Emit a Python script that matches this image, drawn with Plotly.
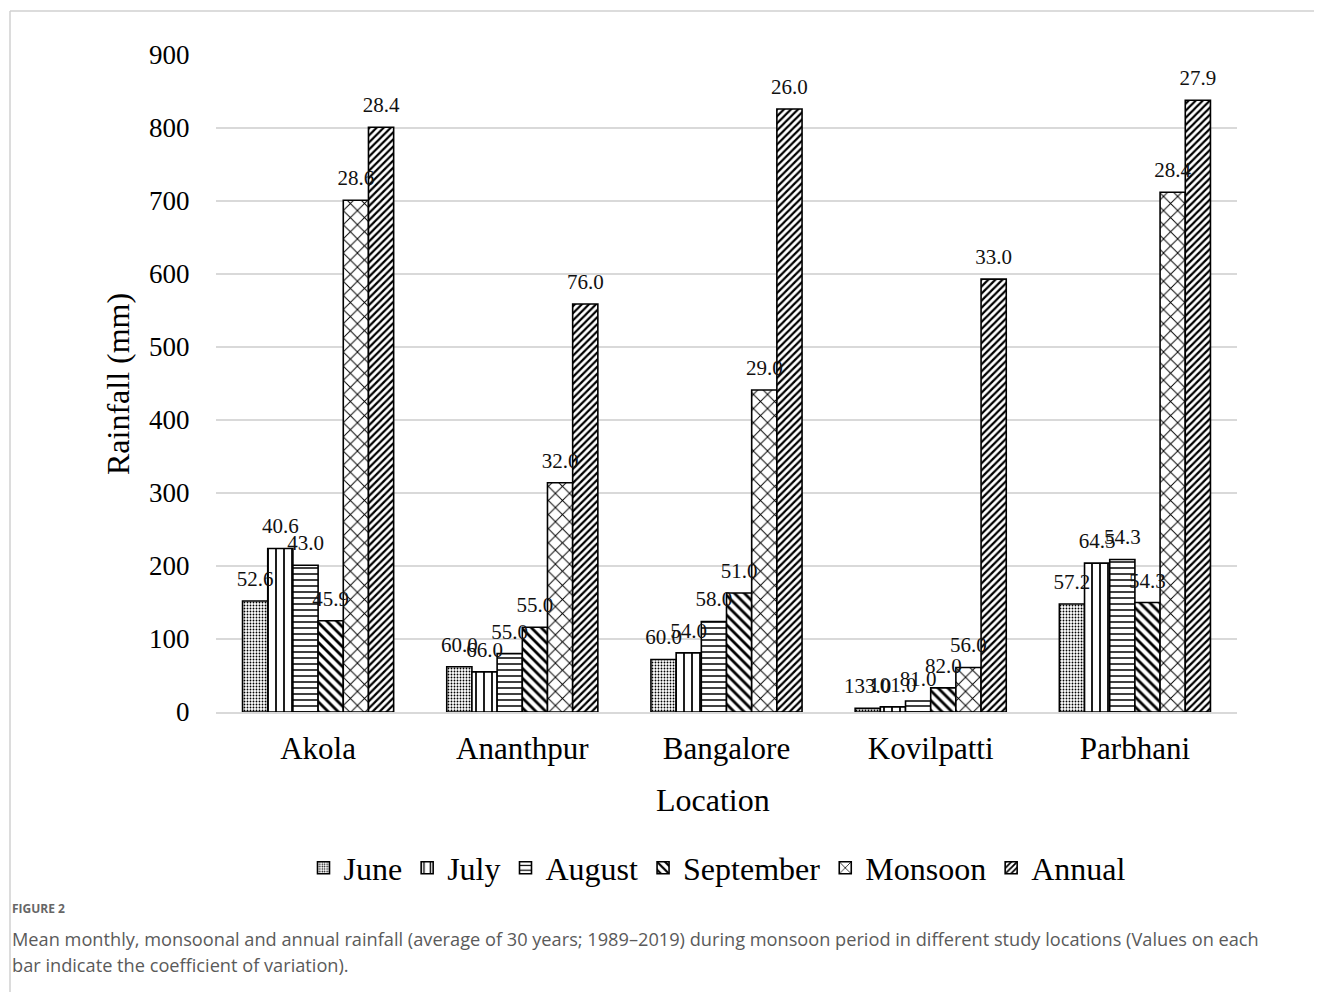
import plotly.graph_objects as go

locations = ["Akola", "Ananthpur", "Bangalore", "Kovilpatti", "Parbhani"]
series_names = ["June", "July", "August", "September", "Monsoon", "Annual"]

june = [152, 62, 72, 5, 148]
july = [224, 55, 81, 7, 204]
august = [201, 80, 124, 15, 209]
september = [125, 116, 163, 33, 150]
monsoon = [701, 314, 441, 61, 712]
annual = [801, 559, 826, 593, 838]

cv_june = ["52.6", "60.0", "60.0", "133.0", "57.2"]
cv_july = ["40.6", "66.0", "54.0", "101.0", "64.5"]
cv_august = ["43.0", "55.0", "58.0", "81.0", "54.3"]
cv_september = ["45.9", "55.0", "51.0", "82.0", "54.3"]
cv_monsoon = ["28.6", "32.0", "29.0", "56.0", "28.4"]
cv_annual = ["28.4", "76.0", "26.0", "33.0", "27.9"]

y_ticks = [0, 100, 200, 300, 400, 500, 600, 700, 800, 900]

values = [june, july, august, september, monsoon, annual]
labels = [cv_june, cv_july, cv_august, cv_september, cv_monsoon, cv_annual]
patterns = [
    dict(shape=".", size=3, solidity=0.3),
    dict(shape="|", size=8, solidity=0.22),
    dict(shape="-", size=6, solidity=0.25),
    dict(shape="\\", size=7, solidity=0.4),
    dict(shape="x", size=10, solidity=0.18),
    dict(shape="/", size=5, solidity=0.45),
]

SERIF = "Liberation Serif, Times New Roman, serif"

fig = go.Figure()
for name, vals, pat in zip(series_names, values, patterns):
    fig.add_trace(go.Bar(
        name=name, x=locations, y=vals,
        marker=dict(color="white", line=dict(color="black", width=1.6),
                    pattern=dict(fgcolor="black", bgcolor="white", fillmode="replace", **pat)),
    ))
# data labels (coefficient of variation) drawn on top of all bars, grouped like the bars
for name, vals, labs in zip(series_names, values, labels):
    fig.add_trace(go.Scatter(
        name=name + " CV", x=locations, y=vals, text=labs, mode="markers+text",
        textposition="top center", cliponaxis=False, showlegend=False, hoverinfo="skip",
        marker=dict(size=14, color="rgba(0,0,0,0)"),
        textfont=dict(family=SERIF, size=21, color="#111"),
    ))

# page body has an 8px margin; screen coordinates are converted accordingly
OFF = 8
W, H = 1322 - OFF, 992 - OFF
L, R, T, B = 216 - OFF, 1237 - OFF, 55 - OFF, 712 - OFF
pw, ph = R - L, B - T


def px(x):
    return (x - OFF - L) / pw


def py(y):
    return (B - (y - OFF)) / ph


fig.update_layout(
    width=W, height=H, autosize=False,
    margin=dict(l=L, r=W - R, t=T, b=H - B),
    plot_bgcolor="white", paper_bgcolor="white",
    barmode="group", bargap=0.26, bargroupgap=0,
    scattermode="group", scattergap=0.26,
    font=dict(family=SERIF, color="black"),
    showlegend=True,
    legend=dict(orientation="h", xanchor="center", x=px(717), yanchor="middle", y=py(868),
                font=dict(family=SERIF, size=32, color="black"), itemwidth=30,
                traceorder="normal"),
    xaxis=dict(showgrid=False, showline=True, linecolor="#d9d9d9", linewidth=1.5,
               ticks="outside", ticklen=8, tickcolor="rgba(0,0,0,0)",
               tickfont=dict(family=SERIF, size=31, color="black")),
    yaxis=dict(range=[0, 900], tickvals=y_ticks, showgrid=True, gridcolor="#d9d9d9", gridwidth=1.5,
               zeroline=False, showline=False,
               ticks="outside", ticklen=20, tickcolor="rgba(0,0,0,0)",
               tickfont=dict(family=SERIF, size=27, color="black")),
)

annos = [
    dict(text="Location", x=px(713), y=py(800), font=dict(family=SERIF, size=32, color="black"),
         xanchor="center", yanchor="middle"),
    dict(text="Rainfall (mm)", x=px(118), y=py(384), textangle=-90,
         font=dict(family=SERIF, size=32, color="black"), xanchor="center", yanchor="middle"),
    dict(text="<b>FIGURE 2</b>", x=px(10), y=py(908), font=dict(family="Open Sans", size=12, color="#666"),
         xanchor="left", yanchor="middle"),
    dict(text="Mean monthly, monsoonal and annual rainfall (average of 30 years; 1989\u20132019) during monsoon period in different study locations (Values on each",
         x=px(10), y=py(939), font=dict(family="Open Sans", size=18.2, color="#5a5a5a"),
         xanchor="left", yanchor="middle"),
    dict(text="bar indicate the coefficient of variation).",
         x=px(10), y=py(965), font=dict(family="Open Sans", size=18.2, color="#5a5a5a"),
         xanchor="left", yanchor="middle"),
]
for a in annos:
    fig.add_annotation(xref="paper", yref="paper", showarrow=False, **a)

fig.add_shape(type="line", xref="paper", yref="paper", x0=px(10), x1=px(1322), y0=py(11), y1=py(11),
              line=dict(color="#d0d0d0", width=1.5))
fig.add_shape(type="line", xref="paper", yref="paper", x0=px(10), x1=px(10), y0=py(11), y1=py(992),
              line=dict(color="#d0d0d0", width=1.5))

fig.write_html("out.html")
